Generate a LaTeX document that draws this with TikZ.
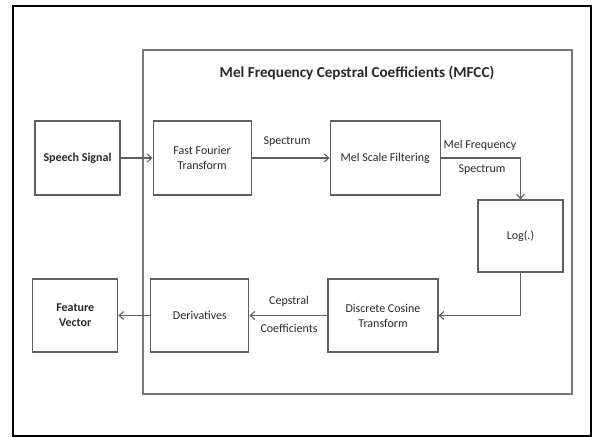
\documentclass[tikz,border=0pt]{standalone}
\usepackage{fontspec}
\setmainfont{Carlito}
\usetikzlibrary{arrows.meta,positioning,calc}
\definecolor{boxgray}{RGB}{95,95,95}
\definecolor{framegray}{RGB}{120,120,120}
\definecolor{textgray}{RGB}{40,40,40}

\begin{document}
\begin{tikzpicture}[x=1pt,y=-1pt,% pixel-like units, y grows downwards
			every node/.style={
				align=center,		% so that "\\" breaks the line
				text=textgray,
				font=\fontsize{12}{15}\selectfont
			},
			block/.style={rectangle,draw=boxgray,line width=1.1pt,minimum height=74pt,inner sep=2pt},
			lbl/.style={inner sep=1pt},
			every edge/.style={draw=boxgray,line width=1.1pt,-{Straight Barb[length=4.5pt,width=8pt]}},
			flow/.style={draw=boxgray,line width=1.1pt,-{Straight Barb[length=4.5pt,width=8pt]}}
		]
		\useasboundingbox (0,0) rectangle (594,437);
		% frames
		\draw[black,line width=2.4pt] (13,6) rectangle (591,436);
		\draw[framegray,line width=1.2pt] (143,50) rectangle (572,394);
		\node[font=\fontsize{15.2}{17}\bfseries\selectfont](T1) at (357,73) {Mel Frequency Cepstral Coefficients (MFCC)};
		% top row
		\node[block,minimum width=85pt,font=\fontsize{12}{15}\bfseries\selectfont](S1) at (77.5,158) {Speech Signal};
		\node[block,minimum width=98pt](F1)[right=32pt of S1]{Fast Fourier\\Transform};
		\node[block,minimum width=110pt](M1)[right=78pt of F1]{Mel Scale Filtering};
		\node[block,minimum width=85pt,minimum height=72pt](L1) at (520.5,236) {Log(.)};
		% bottom row
		\node[block,minimum width=110pt,minimum height=73pt](D1) at (383,315.5) {Discrete Cosine\\Transform};
		\node[block,minimum width=98pt,minimum height=73pt](D2)[left=78pt of D1]{Derivatives};
		\node[block,minimum width=85pt,minimum height=73pt,font=\fontsize{12}{15}\bfseries\selectfont](V1)[left=32pt of D2]{Feature\\Vector};
		% edge labels
		\node[lbl](E1) at (287,142) {Spectrum};
		\node[lbl](E2) at (480,145) {Mel Frequency};
		\node[lbl](E3) at (482,170) {Spectrum};
		\node[lbl](E4) at (289,301) {Cepstral};
		\node[lbl](E5) at (289,328) {Coefficients};
		\path
		(S1)edge [] (F1)
		(F1)edge [] (M1)
		(D1)edge [] (D2)
		(D2)edge [] (V1)
		;
		\draw[flow] (M1.east) -| (L1.north);
		\draw[flow] (L1.south) |- (D1.east);
	\end{tikzpicture}
\end{document}
